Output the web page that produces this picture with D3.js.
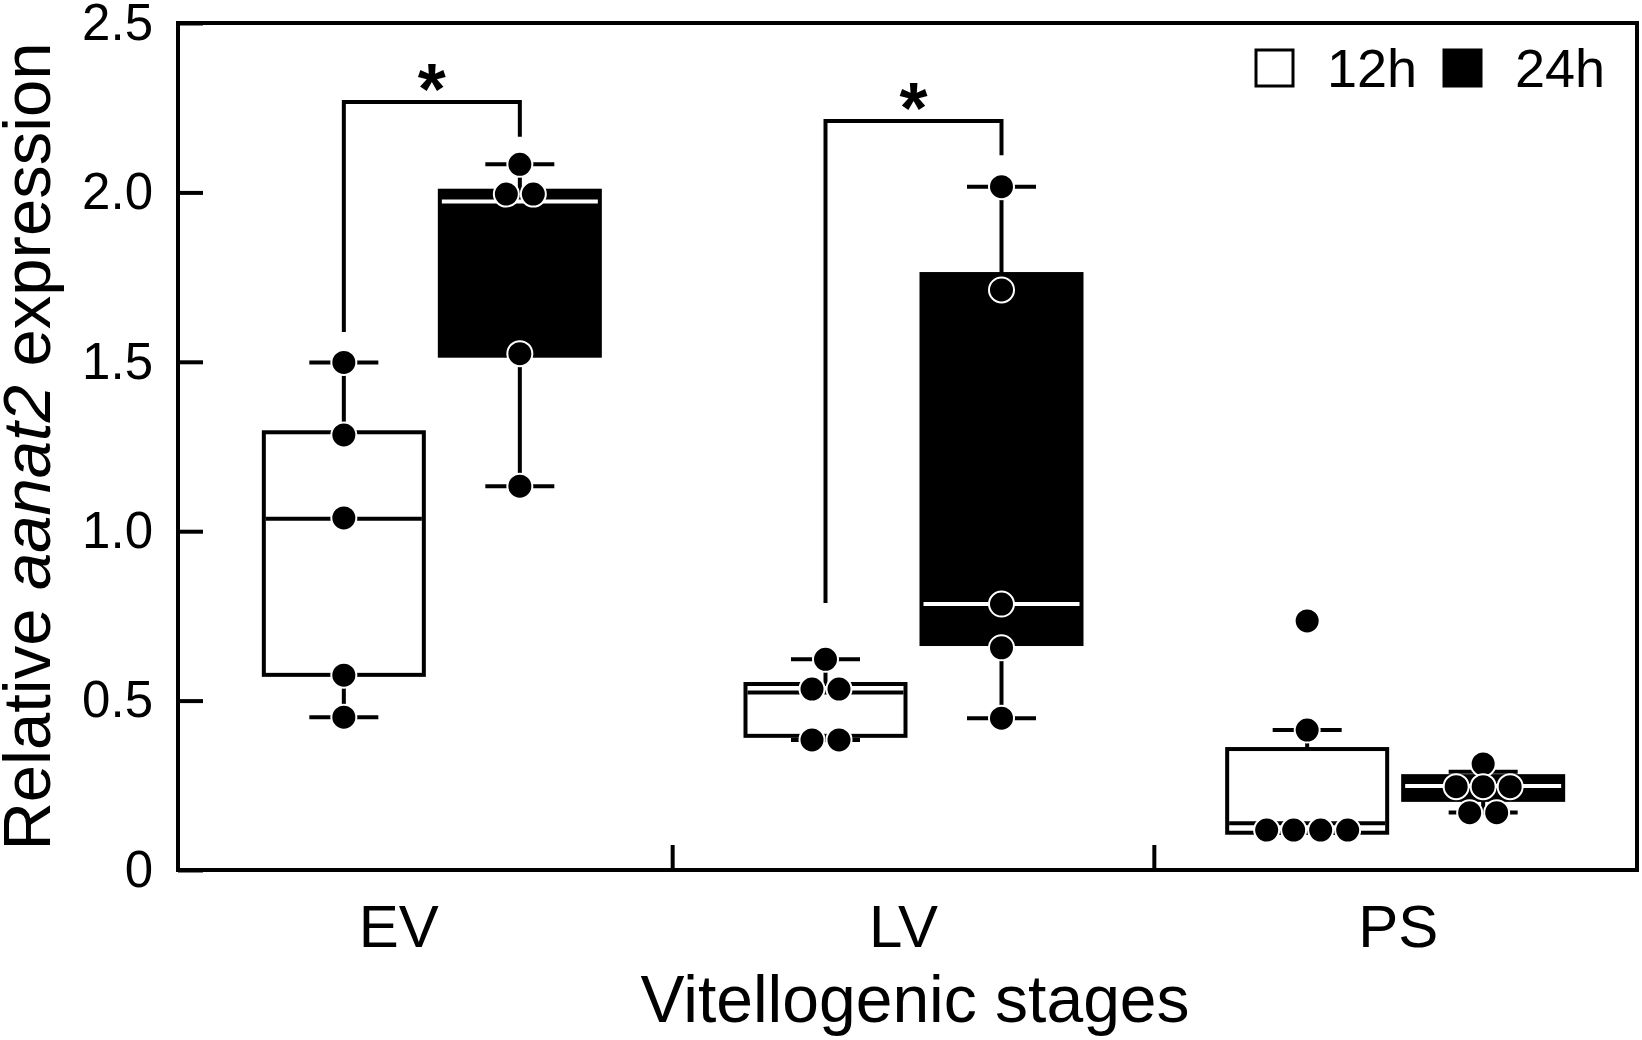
<!DOCTYPE html>
<html>
<head>
<meta charset="utf-8">
<script src="https://cdn.jsdelivr.net/npm/d3@7"></script>
<style>
  body { margin: 0; background: #fff; }
  svg text { font-family: "Liberation Sans", Arial, sans-serif; fill: #000; }
</style>
</head>
<body>
<script>
// categories and series
var categories = ["EV", "LV", "PS"];
var series = ["12h", "24h"];
var yTicks = [0, 0.5, 1.0, 1.5, 2.0, 2.5];

// individual points
var ev12 = [1.498, 1.284, 1.039, 0.575, 0.451];
var ev24 = [2.083, 1.995, 1.995, 1.524, 1.133];
var lv12 = [0.622, 0.534, 0.534, 0.384, 0.384];
var lv24 = [2.017, 1.712, 0.785, 0.656, 0.448];
var ps12 = [0.735, 0.413, 0.118, 0.118, 0.118, 0.118];
var ps24 = [0.313, 0.246, 0.246, 0.246, 0.169, 0.169];

// box stats: [whisker low, q1, median, q3, whisker high]
var ev12Box = [0.451, 0.576, 1.037, 1.292, 1.498];
var ev24Box = [1.133, 1.518, 1.973, 2.005, 2.083];
var lv12Box = [0.384, 0.396, 0.524, 0.549, 0.622];
var lv24Box = [0.448, 0.667, 0.785, 1.759, 2.017];
var ps12Box = [0.110, 0.110, 0.138, 0.357, 0.413];
var ps24Box = [0.170, 0.207, 0.248, 0.277, 0.290];

// significance brackets: [left leg bottom, top, right leg bottom]
var evBracket = [1.588, 2.267, 2.164];
var lvBracket = [0.788, 2.211, 2.110];

var groups = [
  {cat: "EV", s: "12h", pts: ev12, box: ev12Box},
  {cat: "EV", s: "24h", pts: ev24, box: ev24Box},
  {cat: "LV", s: "12h", pts: lv12, box: lv12Box},
  {cat: "LV", s: "24h", pts: lv24, box: lv24Box},
  {cat: "PS", s: "12h", pts: ps12, box: ps12Box},
  {cat: "PS", s: "24h", pts: ps24, box: ps24Box}
];
var brackets = [
  {cat: "EV", v: evBracket},
  {cat: "LV", v: lvBracket}
];

var width = 1642, height = 1040;
var plotL = 178, plotR = 1637, plotT = 23, plotB = 870;
var boxW = 160, capW = 69, dotR = 12.5, dotGap = 27, lw = 4;

var svg = d3.select("body").append("svg")
  .attr("width", width)
  .attr("height", height);

var y = d3.scaleLinear().domain([0, 2.5]).range([plotB, plotT]);
var x = d3.scaleBand().domain(categories).range([191, 1636]);
var sub = d3.scalePoint().domain(series).range([-88, 88]);

function cx(d) { return x(d.cat) + x.bandwidth() / 2 + sub(d.s); }

// boxes
var g = svg.append("g");
g.selectAll("rect.box")
  .data(groups)
  .enter()
  .append("rect")
  .attr("x", function(d) { return cx(d) - boxW / 2; })
  .attr("y", function(d) { return y(d.box[3]); })
  .attr("width", boxW)
  .attr("height", function(d) { return y(d.box[1]) - y(d.box[3]); })
  .attr("fill", function(d) { return d.s == "12h" ? "#fff" : "#000"; })
  .attr("stroke", "#000")
  .attr("stroke-width", lw);

// whiskers
g.selectAll("path.whisker")
  .data(groups)
  .enter()
  .append("path")
  .attr("d", function(d) {
    var c = cx(d);
    return "M" + c + "," + y(d.box[3]) + "V" + y(d.box[4]) +
      "M" + (c - capW / 2) + "," + y(d.box[4]) + "H" + (c + capW / 2) +
      "M" + c + "," + y(d.box[1]) + "V" + y(d.box[0]) +
      "M" + (c - capW / 2) + "," + y(d.box[0]) + "H" + (c + capW / 2);
  })
  .attr("fill", "none")
  .attr("stroke", "#000")
  .attr("stroke-width", lw);

// medians
g.selectAll("line.median")
  .data(groups)
  .enter()
  .append("line")
  .attr("x1", function(d) { return cx(d) - boxW / 2 + lw / 2; })
  .attr("x2", function(d) { return cx(d) + boxW / 2 - lw / 2; })
  .attr("y1", function(d) { return y(d.box[2]); })
  .attr("y2", function(d) { return y(d.box[2]); })
  .attr("stroke", function(d) { return d.s == "12h" ? "#000" : "#fff"; })
  .attr("stroke-width", lw);

// simple swarm: points within a few pixels share a row
function swarm(d) {
  var c = cx(d);
  var vals = d.pts.slice().sort(d3.descending);
  var rows = [], out = [];
  vals.forEach(function(v) {
    var last = rows[rows.length - 1];
    if (last && Math.abs(y(last[0]) - y(v)) < 8) last.push(v);
    else rows.push([v]);
  });
  rows.forEach(function(r) {
    r.forEach(function(v, i) {
      out.push({x: c + (i - (r.length - 1) / 2) * dotGap, y: y(v)});
    });
  });
  return out;
}

var dots = [];
groups.forEach(function(d) { dots = dots.concat(swarm(d)); });

g.selectAll("circle")
  .data(dots)
  .enter()
  .append("circle")
  .attr("cx", function(d) { return d.x; })
  .attr("cy", function(d) { return d.y; })
  .attr("r", dotR)
  .attr("fill", "#000")
  .attr("stroke", "#fff")
  .attr("stroke-width", 2);

// significance brackets
brackets.forEach(function(b) {
  var c0 = x(b.cat) + x.bandwidth() / 2 + sub("12h");
  var c1 = x(b.cat) + x.bandwidth() / 2 + sub("24h");
  svg.append("path")
    .attr("d", "M" + c0 + "," + y(b.v[0]) + "V" + y(b.v[1]) + "H" + c1 + "V" + y(b.v[2]))
    .attr("fill", "none")
    .attr("stroke", "#000")
    .attr("stroke-width", lw);
  svg.append("text")
    .attr("x", (c0 + c1) / 2)
    .attr("y", y(b.v[1]) + 12)
    .attr("text-anchor", "middle")
    .attr("font-size", 72)
    .attr("font-weight", "bold")
    .text("*");
});

// frame
svg.append("rect")
  .attr("x", plotL)
  .attr("y", plotT)
  .attr("width", plotR - plotL)
  .attr("height", plotB - plotT)
  .attr("fill", "none")
  .attr("stroke", "#000")
  .attr("stroke-width", lw);

// y axis
var yAxis = svg.append("g")
  .attr("transform", "translate(" + plotL + ",0)")
  .call(d3.axisLeft(y)
    .tickValues(yTicks)
    .tickFormat(function(v) { return v == 0 ? "0" : d3.format(".1f")(v); })
    .tickSizeInner(-25)
    .tickSizeOuter(0)
    .tickPadding(25));
yAxis.select(".domain").remove();
yAxis.selectAll("line").attr("stroke", "#000").attr("stroke-width", lw);
yAxis.selectAll("text")
  .attr("font-size", 51)
  .attr("font-family", "Liberation Sans, Arial, sans-serif")
  .attr("fill", "#000");

// x dividers between categories
svg.selectAll("line.divider")
  .data(categories.slice(1))
  .enter()
  .append("line")
  .attr("x1", function(c) { return x(c); })
  .attr("x2", function(c) { return x(c); })
  .attr("y1", plotB)
  .attr("y2", plotB - 25)
  .attr("stroke", "#000")
  .attr("stroke-width", lw);

// category labels
var labelNudge = [-33, -10, 3];
svg.selectAll("text.cat")
  .data(categories)
  .enter()
  .append("text")
  .attr("x", function(c, i) { return x(c) + x.bandwidth() / 2 + labelNudge[i]; })
  .attr("y", 947)
  .attr("text-anchor", "middle")
  .attr("font-size", 60)
  .text(function(c) { return c; });

// axis titles
svg.append("text")
  .attr("x", 915)
  .attr("y", 1022)
  .attr("text-anchor", "middle")
  .attr("font-size", 66)
  .text("Vitellogenic stages");

var yt = svg.append("text")
  .attr("transform", "translate(50," + (plotT + plotB) / 2 + ") rotate(-90)")
  .attr("text-anchor", "middle")
  .attr("font-size", 67);
yt.append("tspan").text("Relative ");
yt.append("tspan").attr("font-style", "italic").text("aanat2");
yt.append("tspan").text(" expression");

// legend
var legend = svg.append("g");
var legX = [1256, 1444];
series.forEach(function(s, i) {
  legend.append("rect")
    .attr("x", legX[i])
    .attr("y", 50)
    .attr("width", 37)
    .attr("height", 36)
    .attr("fill", i == 0 ? "#fff" : "#000")
    .attr("stroke", "#000")
    .attr("stroke-width", 3);
  legend.append("text")
    .attr("x", legX[i] + 71)
    .attr("y", 87)
    .attr("font-size", 54)
    .text(s);
});
</script>
</body>
</html>
